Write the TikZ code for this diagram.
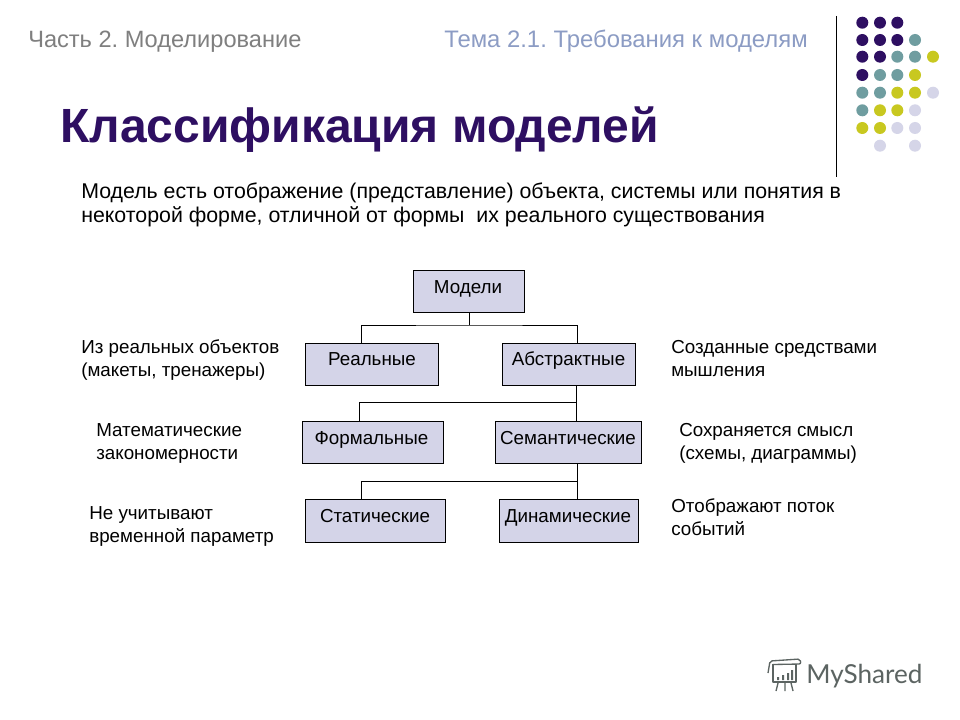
\documentclass[tikz,border=0pt]{standalone}
\usepackage{fontspec}
\setmainfont{Liberation Sans}
\newfontfamily\logofont{Lato}
\definecolor{cpur}{HTML}{2E0F62}
\definecolor{ctea}{HTML}{6F9DA0}
\definecolor{cyel}{HTML}{C8C820}
\definecolor{clav}{HTML}{D5D5E8}
\definecolor{cbox}{HTML}{D4D4E8}
\definecolor{chead}{HTML}{7F7F7F}
\definecolor{ctema}{HTML}{8C9CC4}
\definecolor{clogo}{HTML}{5C6462}
\newcommand{\fsz}[1]{\fontsize{#1}{#1}\selectfont}
\frenchspacing
\tikzset{
  x=0.75pt,y=-0.75pt,
  treebox/.style={draw=black,line width=0.75pt,fill=cbox,inner sep=0pt,anchor=north west,text=black},
  link/.style={draw=black,line width=0.75pt},
  txt/.style={inner sep=0pt,anchor=base west,text=black},
  boxlabel/.style={inner sep=0pt,anchor=base,text=black,font=\fsz{14.1}},
  note/.style={txt,font=\fsz{14.1}},
  dotp/.style={circle,inner sep=0pt,minimum size=9pt,fill=#1}
}
\newcommand{\dotrow}[2]{\foreach \cx/\cc in {#2}{\node[dotp=\cc] (d\cx-#1) at (\cx,#1) {};}}
\begin{document}
\begin{tikzpicture}
\useasboundingbox (0,0) rectangle (960,720);
\fill[white] (0,0) rectangle (960,720);
% header
\node[txt,text=chead,font=\fsz{17.7}] (h1) at (28,48) {Часть 2. Моделирование};
\node[txt,text=ctema,font=\fsz{17.9}] (h2) at (444,48) {Тема 2.1. Требования к моделям};
\node[txt,text=cpur,font=\bfseries\fsz{36}] (title) at (60,143) {Классификация моделей};
\node[txt,font=\fsz{16}] (def1) at (81,199) {Модель есть отображение (представление) объекта, системы или понятия в};
\node[txt,font=\fsz{16}] (def2) at (81,223) {некоторой форме, отличной от формы\ \ их реального существования};
% decoration
\coordinate (vtop) at (836.3,16);
\coordinate (vbot) at (836.3,177);
\draw[black,line width=0.75pt] (vtop) -- (vbot);
\dotrow{22.7}{862.3/cpur,880/cpur,897.3/cpur}
\dotrow{40}{862.3/cpur,880/cpur,897.3/cpur,915/ctea}
\dotrow{56.7}{862.3/cpur,880/cpur,897.3/ctea,915/ctea,933/cyel}
\dotrow{75}{862.3/cpur,880/ctea,897.3/ctea,915/cyel}
\dotrow{92.7}{862.3/ctea,880/ctea,897.3/cyel,915/cyel,933/clav}
\dotrow{110.3}{862.3/ctea,880/cyel,897.3/cyel,915/clav}
\dotrow{128}{862.3/cyel,880/cyel,897.3/clav,915/clav}
\dotrow{145.7}{880/clav,915/clav}
% tree boxes
\node[treebox,minimum width=83.25pt,minimum height=31.5pt] (model) at (413,270) {};
\node[treebox,minimum width=99.75pt,minimum height=31.5pt] (real) at (305,343) {};
\node[treebox,minimum width=99.75pt,minimum height=31.5pt] (abs) at (502,343) {};
\node[treebox,minimum width=105.75pt,minimum height=31.5pt] (form) at (302,421) {};
\node[treebox,minimum width=109.5pt,minimum height=31.5pt] (sem) at (495,421) {};
\node[treebox,minimum width=105pt,minimum height=32.25pt] (stat) at (305,499) {};
\node[treebox,minimum width=104.25pt,minimum height=32.25pt] (dyn) at (499,499) {};
\node[boxlabel] at (468,293) {Модели};
\node[boxlabel] at (372,365) {Реальные};
\node[boxlabel] at (568.5,365) {Абстрактные};
\node[boxlabel] at (371.5,444) {Формальные};
\node[boxlabel] at (568,444) {Семантические};
\node[boxlabel] at (375,522) {Статические};
\node[boxlabel] at (568,522) {Динамические};
% connectors
\coordinate (j1) at (model.south |- 0,325);
\coordinate (t1) at (361,343);
\coordinate (t2) at (577,343);
\draw[link] (model.south) -- (j1);
\draw[link] (t1) |- (j1) -| (t2);
\coordinate (s2) at (576,385);
\coordinate (e2) at (576,421);
\coordinate (j2) at (576,402);
\coordinate (t3) at (359,421);
\draw[link] (s2) -- (e2);
\draw[link] (t3) |- (j2);
\coordinate (s3) at (577,463);
\coordinate (e3) at (577,499);
\coordinate (j3) at (577,481);
\coordinate (t4) at (361,499);
\draw[link] (s3) -- (e3);
\draw[link] (t4) |- (j3);
% notes
\node[note] at (81,353) {Из реальных объектов};
\node[note] at (81,376) {(макеты, тренажеры)};
\node[note] at (671,353) {Созданные средствами};
\node[note] at (671,376) {мышления};
\node[note] at (96,436) {Математические};
\node[note] at (96,459) {закономерности};
\node[note] at (679,436) {Сохраняется смысл};
\node[note] at (679,459) {(схемы, диаграммы)};
\node[note] at (89,519) {Не учитывают};
\node[note] at (89,542) {временной параметр};
\node[note] at (671,512) {Отображают поток};
\node[note] at (671,535) {событий};
% logo
\node[txt,text=clogo,font=\logofont\fsz{19.6}] (logo) at (806,683) {MyShared};
\draw[clogo,line width=1pt,line join=round] (773,664) -- (773,682) -- (796,682) -- (796,664);
\draw[clogo,line width=1pt,line join=round,rounded corners=1.5pt] (768,673) -- (770,661) -- (800,659) -- (801,664) -- (773,664.5);
\fill[clogo] (777,677) rectangle (779,680) (782,675) rectangle (784,680) (787,673) rectangle (789,680) (791,670) rectangle (793,680);
\draw[clogo,line width=1pt] (778,683) -- (776,691) (785,683) -- (785,691) (791,683) -- (793,691);
\end{tikzpicture}
\end{document}
